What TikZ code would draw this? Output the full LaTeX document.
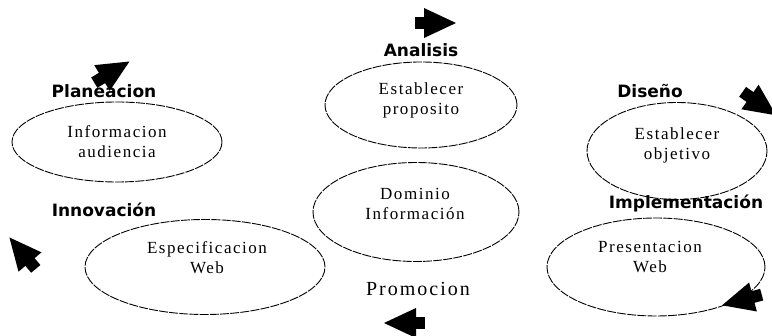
\documentclass[tikz,border=0pt]{standalone}
\usepackage{fontspec}
\setmainfont{Liberation Serif}
\newfontfamily\lblfont{DejaVu Sans}
\newfontfamily\elfont[LetterSpace=9]{Liberation Serif}
\newfontfamily\profont[LetterSpace=10]{Liberation Serif}
\usetikzlibrary{shapes.geometric}
\begin{document}
\begin{tikzpicture}[x=1pt,y=-1pt,
  ell/.style={ellipse, draw, line width=0.9pt, dash pattern=on 9pt off 1.2pt, inner sep=0pt},
  etext/.style={font=\elfont\fontsize{17}{20}\selectfont, align=center, inner sep=0pt},
  lbl/.style={font=\lblfont\bfseries\fontsize{17}{20}\selectfont, inner sep=0pt},
  promo/.style={font=\profont\fontsize{20}{22}\selectfont, inner sep=0pt},
  barrow/.pic={\fill (-9,-6) rectangle (1,6); \fill (0,-15) -- (32,0) -- (0,15) -- cycle;}]
\useasboundingbox (0,0) rectangle (772,336);
% ellipses
\node[ell, minimum width=210pt, minimum height=80pt] (aud) at (117,142) {};
\node[ell, minimum width=192pt, minimum height=86pt] (prop) at (421,105) {};
\node[ell, minimum width=180pt, minimum height=97pt] (obj) at (677,151) {};
\node[ell, minimum width=206pt, minimum height=99pt] (dom) at (416,212) {};
\node[ell, minimum width=240pt, minimum height=95pt] (esp) at (205,267) {};
\node[ell, minimum width=218pt, minimum height=98pt] (pres) at (656,267) {};
% ellipse texts
\node[etext] (taud) at (117,142) {Informacion\\audiencia};
\node[etext] (tprop) at (421,100) {Establecer\\proposito};
\node[etext] (tobj) at (677,145) {Establecer\\objetivo};
\node[etext] (tdom) at (415,204) {Dominio\\Información};
\node[etext] (tesp) at (207,258) {Especificacion\\Web};
\node[etext] (tpres) at (650,257) {Presentacion\\Web};
% labels
\node[lbl] (lplan) at (104,91) {Planeacion};
\node[lbl] (lana) at (421,50) {Analisis};
\node[lbl] (ldis) at (650,91) {Diseño};
\node[lbl] (linn) at (104,210) {Innovación};
\node[lbl] (limp) at (686,203) {Implementación};
\node[promo] (lpro) at (418,289) {Promocion};
% block arrows
\pic[rotate=0] at (424,23) {barrow};
\pic[rotate=31] at (102,78) {barrow};
\pic[rotate=-35] at (750,97) {barrow};
\pic[rotate=195] at (753,297) {barrow};
\pic[rotate=180] at (416,323) {barrow};
\pic[rotate=130] at (30,262) {barrow};
\end{tikzpicture}
\end{document}
